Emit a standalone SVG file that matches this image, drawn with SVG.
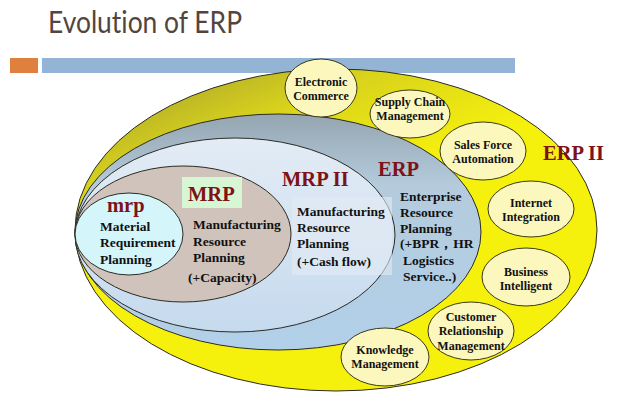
<svg xmlns="http://www.w3.org/2000/svg" width="640" height="413" viewBox="0 0 640 413">
<defs>
<linearGradient id="gY" x1="0.15" y1="0" x2="0.45" y2="0.45">
<stop offset="0" stop-color="#a9a42c"/>
<stop offset="0.45" stop-color="#d9d31c"/>
<stop offset="1" stop-color="#f6f10c"/>
</linearGradient>
<linearGradient id="gERP" x1="0" y1="0" x2="0" y2="1">
<stop offset="0" stop-color="#95a5b1"/>
<stop offset="0.3" stop-color="#b4cbdc"/>
<stop offset="1" stop-color="#b2d0ea"/>
</linearGradient>
<linearGradient id="gMRP2" x1="0" y1="0" x2="0" y2="1">
<stop offset="0" stop-color="#e3ecf5"/>
<stop offset="1" stop-color="#c5daee"/>
</linearGradient>
<style>
.ring{stroke:#2b2b22;stroke-width:1}
.sm{fill:#fbf7bd;stroke:#3a3a1a;stroke-width:1}
.t{font-family:"Liberation Serif","Times New Roman",serif;font-weight:bold;fill:#111}
.s{font-size:12px;text-anchor:middle}
.m{font-size:13.5px}
.h{font-family:"Liberation Serif","Times New Roman",serif;font-weight:bold;font-size:20.5px;fill:#7d1218}
.title{font-family:Lato,"Open Sans",sans-serif;font-size:31px;fill:#53443e;font-variant-ligatures:none}
</style>
</defs>
<rect width="640" height="413" fill="#fff"/>
<text class="title" x="48" y="33" textLength="194" lengthAdjust="spacingAndGlyphs">Evolution of ERP</text>
<rect x="10" y="58" width="28" height="15" fill="#e0803f"/>
<rect x="42" y="58" width="473" height="15" fill="#93b4d4"/>

<g id="erp2">
<ellipse class="ring" cx="336" cy="230" rx="261" ry="161" fill="url(#gY)"/>
<text class="h" x="543" y="160">ERP II</text>
</g>
<g id="erp">
<ellipse class="ring" cx="278" cy="232" rx="203" ry="118" fill="url(#gERP)"/>
<text class="h" x="378" y="176">ERP</text>
<text class="t m" x="400" y="201">Enterprise</text>
<text class="t m" x="400" y="217">Resource</text>
<text class="t m" x="400" y="233">Planning</text>
<text class="t m" x="400" y="248">(+BPR，HR</text>
<text class="t m" x="403" y="265">Logistics</text>
<text class="t m" x="403" y="281">Service..)</text>
</g>
<g id="mrp2">
<ellipse class="ring" cx="235" cy="235" rx="160" ry="97" fill="url(#gMRP2)"/>
<rect x="292" y="197" width="100" height="78" fill="#e2ebf5" opacity="0.6"/>
<text class="h" x="282" y="186">MRP II</text>
<text class="t m" x="297" y="216">Manufacturing</text>
<text class="t m" x="297" y="232">Resource</text>
<text class="t m" x="297" y="248">Planning</text>
<text class="t m" x="297" y="266">(+Cash flow)</text>
</g>
<g id="mrpBig">
<ellipse class="ring" cx="183" cy="234" rx="108" ry="68" fill="#d0c3bc"/>
<rect x="182" y="177" width="60" height="31" fill="#d6f6d4"/>
<text class="h" x="188" y="201">MRP</text>
<text class="t m" x="193" y="229">Manufacturing</text>
<text class="t m" x="193" y="246">Resource</text>
<text class="t m" x="193" y="262">Planning</text>
<text class="t m" x="188" y="282">(+Capacity)</text>
</g>
<g id="mrpSmall">
<ellipse class="ring" cx="129" cy="234" rx="54" ry="41" fill="#d4f6fb"/>
<text class="h" x="107" y="212">mrp</text>
<text class="t m" x="100" y="231">Material</text>
<text class="t m" x="100" y="247">Requirement</text>
<text class="t m" x="100" y="264">Planning</text>
</g>

<g id="ec"><ellipse class="sm" cx="321" cy="88" rx="36" ry="29"/>
<text class="t s" x="321" y="86">Electronic</text><text class="t s" x="321" y="100">Commerce</text></g>
<g id="scm"><ellipse class="sm" cx="410" cy="114" rx="40" ry="24"/>
<text class="t s" x="410" y="106">Supply Chain</text><text class="t s" x="410" y="120">Management</text></g>
<g id="sfa"><ellipse class="sm" cx="483" cy="151" rx="43" ry="29"/>
<text class="t s" x="483" y="149">Sales Force</text><text class="t s" x="483" y="163">Automation</text></g>
<g id="ii"><ellipse class="sm" cx="531" cy="209" rx="43" ry="28"/>
<text class="t s" x="531" y="207">Internet</text><text class="t s" x="531" y="221">Integration</text></g>
<g id="bi"><ellipse class="sm" cx="526" cy="277" rx="44" ry="29"/>
<text class="t s" x="526" y="276">Business</text><text class="t s" x="526" y="290">Intelligent</text></g>
<g id="crm"><ellipse class="sm" cx="471" cy="331" rx="43" ry="29"/>
<text class="t s" x="471" y="321">Customer</text><text class="t s" x="471" y="335">Relationship</text><text class="t s" x="471" y="350">Management</text></g>
<g id="km"><ellipse class="sm" cx="385" cy="357" rx="44" ry="29"/>
<text class="t s" x="385" y="354">Knowledge</text><text class="t s" x="385" y="368">Management</text></g>
<g id="connectors"/>
</svg>
